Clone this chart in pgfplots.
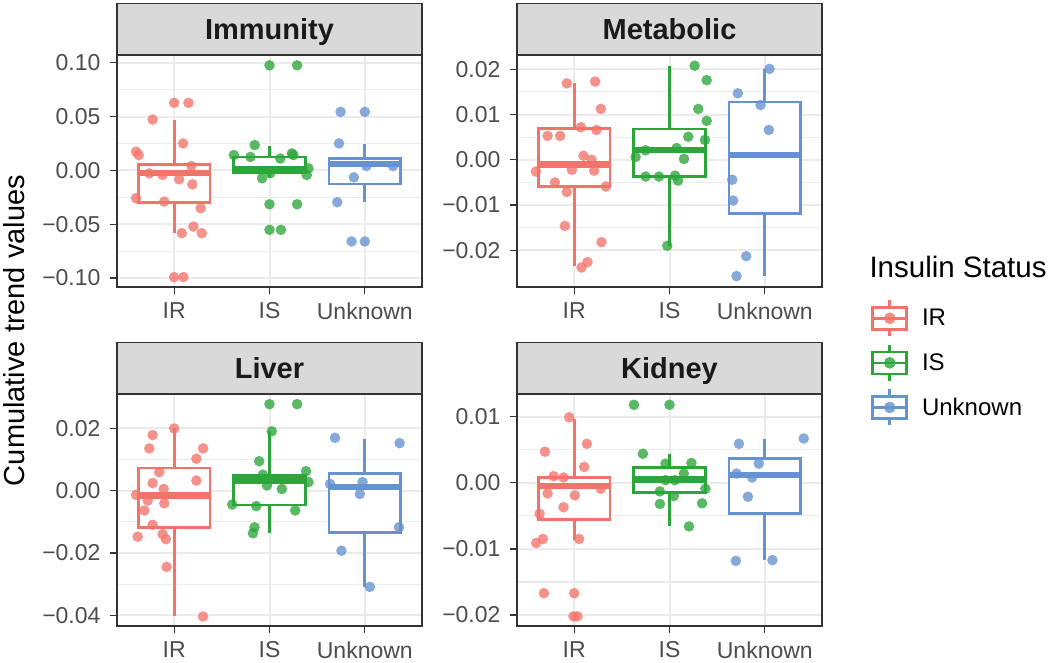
\documentclass[border=0pt]{standalone}
\usepackage{pgfplots}
\pgfplotsset{compat=1.18}
\usepackage{fontspec}
\setmainfont{Liberation Sans}
\definecolor{cR}{HTML}{F2736A}
\definecolor{cG}{HTML}{2CA53A}
\definecolor{cB}{HTML}{6592D0}
\definecolor{gridc}{HTML}{EBEBEB}
\definecolor{bord}{HTML}{333333}
\definecolor{stripc}{HTML}{D9D9D9}
\definecolor{tickc}{HTML}{4D4D4D}
\definecolor{titc}{HTML}{1A1A1A}
% #1 pos, #2 left, #3 right, #4 lower whisker, #5 lower hinge, #6 median, #7 upper hinge, #8 upper whisker, #9 colour
\newcommand{\gbox}[9]{%
 \addplot[#9, line width=2.7pt, forget plot] coordinates {(#1,#4) (#1,#5)};
 \addplot[#9, line width=2.7pt, forget plot] coordinates {(#1,#7) (#1,#8)};
 \addplot[draw=#9, line width=2.7pt, fill=white, forget plot] coordinates {(#2,#5) (#3,#5) (#3,#7) (#2,#7)} -- cycle;
 \addplot[#9, line width=6.5pt, forget plot] coordinates {(#2,#6) (#3,#6)};
}
\pgfplotsset{
 panel/.style={
  scale only axis, width=305pt, height=232pt,
  xmin=0.4, xmax=3.6, xtick={1,2,3}, xticklabels={IR,IS,Unknown},
  xmajorgrids, ymajorgrids, yminorgrids, minor y tick num=1,
  major grid style={draw=gridc, line width=2pt},
  minor grid style={draw=gridc, line width=1.1pt},
  axis line style={draw=bord, line width=1.3pt},
  tick style={draw=bord, line width=1.3pt},
  major tick length=7pt, minor tick length=0pt,
  tick align=outside, tick pos=left,
  ticklabel style={font=\fontsize{23}{23}\selectfont, text=tickc},
  yticklabel style={xshift=-6pt},
  xticklabel style={yshift=-5pt},
  every axis title/.style={at={(0.5,1)}, anchor=south, fill=stripc, draw=bord,
    line width=1.3pt, minimum width=305pt, minimum height=51pt, inner sep=0pt,
    text height=21pt, text depth=0pt,
    font=\fontsize{29}{29}\selectfont\bfseries, text=titc},
  clip=false,
 },
 pts/.style={color=#1, only marks, mark=*, mark size=5.3pt,
   mark options={draw=#1, fill=#1, draw opacity=0, fill opacity=0.78}, forget plot},
 boxlegend/.style={legend image code/.code={
  \draw[line width=2.6pt] (18pt,-18pt) -- (18pt,18pt);
  \filldraw[fill=white, line width=2.6pt] (1pt,-11pt) rectangle (35pt,11pt);
  \draw[line width=2.6pt] (1pt,0pt) -- (35pt,0pt);
  \fill[fill opacity=0.8] (18pt,0pt) circle (5.5pt);
 }},
}
\begin{document}
\begin{tikzpicture}
\useasboundingbox (0pt,-662pt) rectangle (1050pt,0pt);

% ---------- Immunity ----------
\begin{axis}[panel, at={(117pt,-287pt)}, anchor=south west, title={Immunity},
  ymin=-0.1083, ymax=0.1071, ytick={-0.1,-0.05,0,0.05,0.1},
  yticklabels={−0.10,−0.05,0.00,0.05,0.10}]
\gbox{1}{0.625}{1.375}{-0.0583}{-0.0300}{-0.0025}{0.0052}{0.0466}{cR}
\gbox{2}{1.625}{2.375}{-0.0074}{-0.0025}{0.0012}{0.0125}{0.0225}{cG}
\gbox{3}{2.625}{3.375}{-0.0296}{-0.0127}{0.0060}{0.0112}{0.0241}{cB}
\addplot[pts=cR] table[row sep=\\] {x y\\
1.000 0.0627\\ 1.150 0.0627\\ 0.774 0.0472\\ 1.094 0.0250\\ 0.600 0.0173\\
0.628 0.0142\\ 0.739 -0.0028\\ 0.878 -0.0043\\ 1.052 -0.0083\\ 1.191 -0.0130\\
1.180 0.0040\\ 0.600 -0.0259\\ 0.896 -0.0290\\ 1.278 -0.0352\\ 1.202 -0.0522\\
1.080 -0.0583\\ 1.289 -0.0583\\ 1.000 -0.0991\\ 1.097 -0.0991\\};
\addplot[pts=cG] table[row sep=\\] {x y\\
2.000 0.0975\\ 2.290 0.0975\\ 1.845 0.0235\\ 1.626 0.0142\\ 2.235 0.0157\\
2.250 0.0142\\ 1.800 0.0125\\ 2.113 0.0110\\ 2.409 0.0019\\ 2.391 -0.0043\\
2.010 -0.0025\\ 1.922 -0.0074\\ 2.000 -0.0315\\ 2.290 -0.0315\\ 2.000 -0.0552\\
2.120 -0.0552\\};
\addplot[pts=cB] table[row sep=\\] {x y\\
2.746 0.0543\\ 3.000 0.0543\\ 2.729 0.0250\\ 3.017 0.0040\\ 3.296 0.0040\\
2.885 -0.0065\\ 2.711 -0.0296\\ 2.861 -0.0660\\ 3.000 -0.0660\\};
\end{axis}

% ---------- Metabolic ----------
\begin{axis}[panel, at={(517pt,-287pt)}, anchor=south west, title={Metabolic},
  ymin=-0.02811, ymax=0.02316, ytick={-0.02,-0.01,0,0.01,0.02},
  yticklabels={−0.02,−0.01,0.00,0.01,0.02},
  legend style={at={(1.1615,-0.0506)}, anchor=north west, draw=none, fill=none,
    inner sep=0pt, row sep=6pt, font=\fontsize{24}{24}\selectfont,
    nodes={inner sep=0pt, text=black},
    /tikz/every odd column/.append style={column sep=14pt}},
  legend cell align=left]
\gbox{1}{0.625}{1.375}{-0.0235}{-0.0059}{-0.0010}{0.0069}{0.0169}{cR}
\gbox{2}{1.625}{2.375}{-0.0190}{-0.0037}{0.0022}{0.0068}{0.0208}{cG}
\gbox{3}{2.625}{3.375}{-0.0257}{-0.0119}{0.0011}{0.0128}{0.0201}{cB}
\addplot[pts=cR] table[row sep=\\] {x y\\
0.923 0.0169\\ 1.220 0.0173\\ 1.279 0.01125\\ 0.721 0.0053\\ 0.853 0.0053\\
1.070 0.0072\\ 1.234 0.0066\\ 1.098 0.0009\\ 1.182 0.0000\\ 0.599 -0.0026\\
0.976 -0.0022\\ 1.209 -0.0024\\ 0.798 -0.0050\\ 1.332 -0.0059\\ 0.923 -0.0071\\
0.902 -0.0146\\ 1.286 -0.0182\\ 1.140 -0.0226\\ 1.077 -0.0238\\};
\addplot[pts=cG] table[row sep=\\] {x y\\
2.264 0.0208\\ 2.390 0.0176\\ 2.302 0.01125\\ 2.390 0.0086\\ 2.197 0.0051\\
2.372 0.0044\\ 1.644 0.0006\\ 1.749 0.0021\\ 2.075 0.0026\\ 2.152 0.0002\\
1.749 -0.0037\\ 1.890 -0.0037\\ 2.058 -0.0035\\ 2.089 -0.0046\\ 1.977 -0.0190\\};
\addplot[pts=cB] table[row sep=\\] {x y\\
3.049 0.0201\\ 2.717 0.0147\\ 2.955 0.0121\\ 3.042 0.0066\\ 2.658 -0.0044\\
2.668 -0.0090\\ 2.805 -0.0213\\ 2.703 -0.0257\\};
\addlegendimage{cR, boxlegend}
\addlegendentry{IR}
\addlegendimage{cG, boxlegend}
\addlegendentry{IS}
\addlegendimage{cB, boxlegend}
\addlegendentry{Unknown}
\end{axis}

% ---------- Liver ----------
\begin{axis}[panel, at={(117pt,-626pt)}, anchor=south west, title={Liver},
  ymin=-0.04345, ymax=0.03095, ytick={-0.04,-0.02,0,0.02},
  yticklabels={−0.04,−0.02,0.00,0.02}]
\gbox{1}{0.625}{1.375}{-0.0404}{-0.0118}{-0.0016}{0.0072}{0.0199}{cR}
\gbox{2}{1.625}{2.375}{-0.0136}{-0.0046}{0.0032}{0.0048}{0.0190}{cG}
\gbox{3}{2.625}{3.375}{-0.0309}{-0.0134}{0.0011}{0.0054}{0.0166}{cB}
\addplot[pts=cR] table[row sep=\\] {x y\\
1.000 0.0199\\ 0.774 0.0178\\ 0.739 0.0135\\ 1.303 0.0135\\ 1.233 0.0102\\
0.843 0.0059\\ 1.233 0.0032\\ 0.774 0.0024\\ 0.890 0.0005\\ 0.600 -0.0014\\
0.722 -0.0032\\ 0.896 -0.0041\\ 0.687 -0.0064\\ 0.774 -0.0110\\ 0.878 -0.0140\\
0.913 -0.0156\\ 0.617 -0.0148\\ 0.920 -0.0245\\ 1.303 -0.0404\\};
\addplot[pts=cG] table[row sep=\\] {x y\\
2.000 0.0277\\ 2.290 0.0277\\ 2.024 0.0190\\ 1.892 0.0094\\ 1.930 0.0051\\
2.383 0.0062\\ 2.409 0.0027\\ 1.974 0.0016\\ 2.130 0.0005\\ 1.609 -0.0045\\
1.861 -0.0050\\ 2.270 -0.0064\\ 1.843 -0.0118\\ 1.826 -0.0137\\};
\addplot[pts=cB] table[row sep=\\] {x y\\
2.687 0.0169\\ 3.365 0.0152\\ 2.635 0.0021\\ 2.976 0.0027\\ 2.948 -0.0011\\
3.358 -0.0118\\ 2.755 -0.0193\\ 3.052 -0.0309\\};
\end{axis}

% ---------- Kidney ----------
\begin{axis}[panel, at={(517pt,-626pt)}, anchor=south west, title={Kidney},
  ymin=-0.02166, ymax=0.01343, ytick={-0.02,-0.01,0,0.01},
  yticklabels={−0.02,−0.01,0.00,0.01}]
\gbox{1}{0.625}{1.375}{-0.0087}{-0.0055}{-0.0005}{0.0008}{0.0097}{cR}
\gbox{2}{1.625}{2.375}{-0.0065}{-0.0015}{0.0005}{0.0023}{0.0043}{cG}
\gbox{3}{2.625}{3.375}{-0.0117}{-0.0046}{0.0012}{0.0037}{0.0066}{cB}
\addplot[pts=cR] table[row sep=\\] {x y\\
0.948 0.0099\\ 1.133 0.0059\\ 0.693 0.0047\\ 1.105 0.0024\\ 0.784 0.0010\\
0.888 0.0008\\ 0.721 -0.0016\\ 1.007 -0.0019\\ 1.279 -0.0009\\ 0.888 -0.0037\\
0.637 -0.0047\\ 0.672 -0.0085\\ 0.602 -0.0091\\ 1.052 -0.0085\\ 0.682 -0.0167\\
1.000 -0.0167\\ 0.993 -0.0202\\ 1.035 -0.0202\\};
\addplot[pts=cG] table[row sep=\\] {x y\\
1.627 0.0118\\ 2.000 0.0118\\ 1.721 0.0044\\ 1.958 0.0029\\ 2.230 0.0030\\
2.150 0.0014\\ 1.958 0.0004\\ 2.056 0.0004\\ 2.377 -0.0009\\ 1.899 -0.0013\\
2.045 -0.0020\\ 1.899 -0.0032\\ 2.342 -0.0031\\ 2.204 -0.0066\\};
\addplot[pts=cB] table[row sep=\\] {x y\\
2.728 0.0059\\ 3.408 0.0067\\ 2.937 0.0029\\ 2.703 0.0014\\ 2.867 0.0008\\
2.822 -0.0021\\ 2.696 -0.0118\\ 3.080 -0.0117\\};
\end{axis}

% axis title and legend title
\node[rotate=90, anchor=base, font=\fontsize{29}{29}\selectfont] at (24pt,-330.5pt) {Cumulative trend values};
\node[anchor=base west, font=\fontsize{29.5}{29.5}\selectfont] at (866pt,-277pt) {Insulin Status};
\end{tikzpicture}
\end{document}
